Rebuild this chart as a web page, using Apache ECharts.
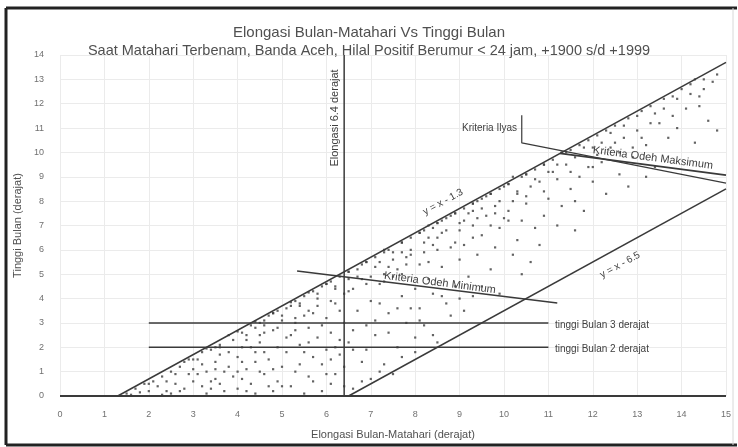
<!DOCTYPE html>
<html>
<head>
<meta charset="utf-8">
<script src="https://cdn.jsdelivr.net/npm/echarts@6/dist/echarts.min.js"></script>
<style>
  html, body { margin: 0; padding: 0; background: #fff; }
  #main { width: 738px; height: 447px; }
</style>
</head>
<body>
<div id="main"></div>
<script>
// garis batas & kriteria (koordinat data: elongasi, tinggi)
const baseLine = [[0, 0], [15, 0]];
const upperLine = [[1.3, 0], [15, 13.7]];
const lowerLine = [[6.5, 0], [15, 8.5]];
const elongLine = [[6.4, 0], [6.4, 14]];
const height3Line = [[2, 3], [11, 3]];
const height2Line = [[2, 2], [11, 2]];
const odehMinLine = [[5.34, 5.13], [11.2, 3.82]];
const odehMaxLine = [[11.26, 9.96], [15, 9.07]];
const ilyasLine = [[10.4, 11.53], [10.4, 10.39], [15, 8.74]];

// titik hilal (dibaca kira-kira dari gambar)
const moonPoints = [
  [1.5, 0.1], [1.7, 0.3], [1.8, 0.15], [1.9, 0.5], [2.0, 0.2], [2.1, 0.6], [1.6, 0.05],
  [2.2, 0.4], [2.3, 0.8], [2.4, 0.2], [2.5, 1.0], [2.6, 0.5], [2.7, 1.2], [2.8, 0.3],
  [2.9, 0.9], [2.5, 0.1], [2.3, 0.05], [2.8, 1.4], [3.0, 0.6], [2.6, 0.9], [2.9, 1.5],
  [3.1, 1.5], [3.2, 0.4], [3.3, 1.0], [3.4, 1.9], [3.5, 0.7], [3.5, 1.4], [3.6, 2.1],
  [3.7, 0.2], [3.8, 1.2], [3.9, 2.3], [3.9, 0.8], [3.3, 0.1], [3.6, 1.7], [3.2, 1.8],
  [3.8, 2.5], [3.4, 0.6], [3.7, 1.0], [4.0, 1.6], [4.0, 0.3], [3.1, 0.9], [3.5, 2.0],
  [4.1, 2.6], [4.2, 1.1], [4.3, 2.9], [4.3, 0.5], [4.4, 1.8], [4.5, 3.0], [4.5, 2.2],
  [4.6, 0.9], [4.7, 3.3], [4.7, 1.5], [4.8, 2.7], [4.8, 0.2], [4.9, 3.5], [4.9, 2.0],
  [4.2, 2.3], [4.4, 0.1], [4.6, 2.6], [5.0, 1.2], [5.0, 3.1], [4.1, 1.4], [4.5, 1.0],
  [4.8, 3.4], [4.3, 2.0], [4.6, 3.1], [4.9, 0.6], [4.4, 2.8],
  [5.1, 3.6], [5.1, 1.8], [5.2, 2.5], [5.2, 0.4], [5.3, 3.9], [5.3, 3.0], [5.4, 1.3],
  [5.4, 2.1], [5.5, 4.1], [5.5, 3.3], [5.6, 0.8], [5.6, 2.8], [5.7, 4.3], [5.7, 1.6],
  [5.8, 3.7], [5.8, 2.4], [5.9, 4.5], [5.9, 0.2], [6.0, 3.2], [6.0, 1.9], [5.5, 0.1],
  [5.2, 3.7], [5.8, 4.2], [6.0, 4.6], [5.3, 1.0], [5.6, 3.5], [5.4, 3.8], [5.9, 2.9],
  [6.1, 4.7], [6.1, 2.6], [6.2, 3.8], [6.2, 0.9], [6.3, 4.9], [6.3, 1.7], [6.4, 4.2],
  [6.4, 3.0], [6.5, 5.1], [6.5, 2.2], [6.6, 4.4], [6.6, 0.3], [6.7, 3.5], [6.7, 5.2],
  [6.8, 1.4], [6.8, 4.8], [6.9, 2.9], [6.9, 5.5], [7.0, 3.9], [7.0, 0.7], [6.2, 4.5],
  [6.4, 1.2], [6.6, 2.7], [6.8, 5.4], [6.1, 0.5], [6.5, 4.8], [6.3, 3.5],
  [7.1, 5.7], [7.1, 2.5], [7.2, 4.6], [7.3, 6.0], [7.3, 1.3], [7.4, 3.4], [7.5, 5.9],
  [7.5, 4.9], [7.6, 2.0], [7.7, 6.3], [7.7, 4.1], [7.8, 5.4], [7.8, 3.0], [7.9, 6.5],
  [8.0, 4.4], [8.0, 2.4], [7.2, 5.5], [7.4, 6.0], [7.6, 5.2], [7.9, 5.8], [7.2, 1.0],
  [7.5, 0.9], [7.6, 3.6], [7.3, 5.0], [7.7, 5.9],
  [8.1, 6.7], [8.1, 3.6], [8.2, 5.9], [8.3, 7.0], [8.3, 4.8], [8.4, 2.5], [8.5, 6.5],
  [8.5, 7.1], [8.6, 5.3], [8.7, 7.3], [8.7, 3.8], [8.8, 6.1], [8.9, 7.5], [8.9, 4.5],
  [9.0, 6.8], [9.0, 5.6], [8.2, 6.8], [8.4, 6.2], [8.6, 7.2], [8.8, 7.4], [8.3, 5.5],
  [8.0, 1.8], [8.5, 2.2], [8.1, 3.1], [8.6, 4.1], [8.4, 6.9],
  [9.1, 7.7], [9.1, 6.2], [9.2, 4.9], [9.3, 7.9], [9.3, 7.0], [9.4, 5.8], [9.5, 8.1],
  [9.5, 6.6], [9.6, 7.4], [9.7, 8.3], [9.7, 5.2], [9.8, 7.8], [9.9, 8.5], [9.9, 6.9],
  [10.0, 7.3], [10.0, 8.6], [9.2, 7.5], [9.4, 8.0], [9.6, 8.2], [9.8, 6.1], [9.0, 4.0],
  [9.1, 3.5], [9.5, 4.5], [9.9, 4.2], [9.3, 7.6],
  [10.1, 8.7], [10.1, 7.6], [10.2, 9.0], [10.3, 6.4], [10.3, 8.3], [10.4, 9.0],
  [10.5, 7.9], [10.5, 9.1], [10.6, 8.6], [10.7, 9.3], [10.7, 6.9], [10.8, 8.8],
  [10.9, 9.5], [10.9, 7.4], [11.0, 9.2], [11.0, 8.1], [10.2, 5.8], [10.6, 5.5],
  [10.4, 7.2], [10.8, 6.2], [10.4, 5.0],
  [11.1, 9.7], [11.2, 8.9], [11.3, 10.0], [11.3, 7.8], [11.4, 9.5], [11.5, 10.1],
  [11.5, 8.5], [11.6, 6.8], [11.7, 10.3], [11.7, 9.0], [11.8, 7.6], [11.9, 10.5],
  [11.9, 9.4], [12.0, 8.8], [11.4, 10.0], [11.6, 9.8], [11.2, 7.0], [12.0, 10.2],
  [12.1, 10.7], [12.2, 9.6], [12.3, 10.9], [12.3, 8.3], [12.4, 10.2], [12.5, 11.1],
  [12.6, 9.1], [12.7, 10.6], [12.8, 11.4], [12.9, 9.8], [13.0, 10.9], [12.5, 10.4],
  [12.2, 10.4], [12.8, 8.6],
  [13.1, 11.7], [13.2, 10.3], [13.3, 11.9], [13.4, 9.4], [13.5, 11.2], [13.6, 12.2],
  [13.7, 10.6], [13.8, 12.3], [13.9, 11.0], [14.0, 12.6], [13.4, 11.6], [13.2, 9.0],
  [14.1, 11.8], [14.2, 12.8], [14.3, 10.4], [14.4, 12.3], [14.5, 13.0], [14.6, 11.3],
  [14.7, 12.9], [14.8, 10.9], [14.3, 13.0],
  // rapat di bawah garis y = x - 1.3
  [3.0, 1.5], [3.3, 1.95], [3.6, 2.0], [4.0, 2.65], [4.2, 2.5], [4.4, 3.05], [4.6, 2.9],
  [4.8, 3.4], [5.0, 3.3], [5.2, 3.85], [5.4, 3.7], [5.6, 4.25], [5.8, 4.0], [6.0, 4.6],
  [6.2, 4.4], [6.5, 5.1], [6.7, 4.9], [6.9, 5.5], [7.1, 5.3], [7.3, 5.9], [7.5, 5.6],
  [7.7, 6.3], [7.9, 6.0], [8.1, 6.7], [8.3, 6.5], [8.5, 7.1], [8.7, 6.8], [8.9, 7.5],
  [9.1, 7.2], [9.3, 7.9], [9.5, 7.7], [9.7, 8.3], [9.9, 8.0], [10.1, 8.7], [10.3, 8.4],
  [10.5, 9.1], [10.7, 8.9], [10.9, 9.5], [11.1, 9.2],
  [4.1, 2.0], [4.5, 2.5], [4.9, 2.8], [5.3, 3.2], [5.7, 3.4], [6.1, 3.9], [6.5, 4.3],
  [6.9, 4.6], [7.3, 4.7], [7.7, 5.0], [8.1, 5.4], [8.5, 6.0], [8.9, 6.3], [9.3, 6.5],
  [9.7, 7.0], [10.1, 7.2], [10.5, 8.2], [10.9, 8.4], [7.0, 4.9], [7.4, 5.3], [7.8, 5.7],
  [8.2, 6.3], [8.6, 6.7], [9.0, 7.1], [9.4, 7.3], [9.8, 7.5], [10.2, 8.0],
  // pojok kiri bawah
  [2.0, 0.5], [2.4, 0.6], [2.7, 0.2], [3.0, 1.1], [3.2, 1.3], [3.4, 0.3], [3.6, 0.5],
  [3.8, 1.8], [4.0, 1.0], [4.2, 0.2], [4.4, 1.4], [4.6, 1.8], [4.8, 1.1], [5.0, 0.4],
  [5.1, 2.4], [5.3, 2.7], [5.5, 1.8], [5.7, 0.6], [5.9, 1.3], [6.1, 1.5], [6.3, 2.3],
  [6.0, 0.9], [5.6, 2.2], [4.7, 0.4], [4.1, 0.7], [3.5, 1.1], [6.2, 2.0], [6.4, 0.4],
  [6.6, 1.9], [6.8, 0.6],
  [6.9, 1.9], [7.1, 3.1], [7.4, 2.6], [7.7, 1.6], [7.9, 3.6], [8.2, 2.9], [8.8, 3.3],
  [9.3, 4.1], [7.2, 3.8], [8.4, 4.2],
  // sisi kanan atas
  [11.2, 9.5], [11.5, 9.2], [11.8, 10.2], [12.1, 9.9], [12.4, 10.8], [12.7, 11.1],
  [13.0, 11.5], [13.3, 11.2], [13.6, 11.8], [13.9, 12.2], [14.2, 12.4], [14.5, 12.6],
  [14.8, 13.2], [12.6, 10.0], [13.1, 10.6], [13.8, 11.5], [14.4, 11.9], [12.0, 9.4],
  [11.6, 8.0], [12.9, 10.2]
];

const lineColor = '#3a3a3a';
const textFont = '"Liberation Sans", Arial, sans-serif';

function guide(data, width) {
  return {
    type: 'line',
    data: data,
    showSymbol: false,
    symbol: 'none',
    silent: true,
    z: 3,
    lineStyle: { color: lineColor, width: width || 1.5 }
  };
}

function note(text, x, y, rot, size, align) {
  return {
    type: 'text',
    x: x,
    y: y,
    rotation: rot || 0,
    z: 10,
    style: {
      text: text,
      font: (size || 11) + 'px ' + textFont,
      fill: '#404040',
      align: align || 'center',
      verticalAlign: 'middle'
    }
  };
}

const myChart = echarts.init(document.getElementById('main'));
myChart.setOption({
  animation: false,
  backgroundColor: '#fff',
  title: [
    {
      text: 'Elongasi Bulan-Matahari Vs Tinggi Bulan',
      left: 'center',
      top: 20,
      textStyle: { color: '#505050', fontSize: 15, fontWeight: 'normal', fontFamily: textFont }
    },
    {
      text: 'Saat Matahari Terbenam, Banda Aceh, Hilal Positif Berumur < 24 jam, +1900 s/d +1999',
      left: 'center',
      top: 38,
      textStyle: { color: '#505050', fontSize: 14.5, fontWeight: 'normal', fontFamily: textFont }
    }
  ],
  grid: { left: 60, right: 12, top: 55, bottom: 51, containLabel: false },
  xAxis: {
    type: 'value',
    min: 0,
    max: 15,
    interval: 1,
    name: 'Elongasi Bulan-Matahari (derajat)',
    nameLocation: 'middle',
    nameGap: 33,
    nameTextStyle: { color: '#505050', fontSize: 11, fontFamily: textFont },
    axisLine: { show: false },
    axisTick: { show: false },
    axisLabel: { color: '#707070', fontSize: 9, margin: 14, fontFamily: textFont },
    splitLine: { show: true, lineStyle: { color: '#ebebeb', width: 1 } }
  },
  yAxis: {
    type: 'value',
    min: 0,
    max: 14,
    interval: 1,
    name: 'Tinggi Bulan (derajat)',
    nameLocation: 'middle',
    nameGap: 27,
    nameTextStyle: { color: '#505050', fontSize: 11, fontFamily: textFont },
    axisLine: { show: false },
    axisTick: { show: false },
    axisLabel: { color: '#707070', fontSize: 9, margin: 16, fontFamily: textFont },
    splitLine: { show: true, lineStyle: { color: '#ebebeb', width: 1 } }
  },
  series: [
    {
      type: 'scatter',
      data: moonPoints,
      symbol: 'rect',
      symbolSize: 2.2,
      silent: true,
      z: 2,
      itemStyle: { color: '#3c3c3c' }
    },
    guide(baseLine, 2),
    guide(upperLine),
    guide(lowerLine),
    guide(elongLine),
    guide(height3Line),
    guide(height2Line),
    guide(odehMinLine),
    guide(odehMaxLine, 1.8),
    guide(ilyasLine, 1.2)
  ],
  graphic: [
    // bingkai gambar
    { type: 'line', shape: { x1: 6, y1: 8, x2: 737, y2: 8 }, style: { stroke: '#222', lineWidth: 3 } },
    { type: 'line', shape: { x1: 6, y1: 8, x2: 6, y2: 445 }, style: { stroke: '#222', lineWidth: 3 } },
    { type: 'line', shape: { x1: 6, y1: 445, x2: 737, y2: 445 }, style: { stroke: '#222', lineWidth: 3 } },
    { type: 'line', shape: { x1: 733, y1: 8, x2: 733, y2: 445 }, style: { stroke: '#d8d8d8', lineWidth: 1 } },
    note('Elongasi 6.4 derajat', 335, 118, Math.PI / 2, 11),
    note('Kriteria Ilyas', 517, 128, 0, 10, 'right'),
    note('Kriteria Odeh Maksimum', 653, 158, -0.13, 11),
    note('Kriteria Odeh Minimum', 440, 283, -0.13, 11),
    note('y = x - 1.3', 443, 202, 0.5, 10),
    note('y = x - 6.5', 620, 265, 0.5, 10),
    note('tinggi Bulan 3 derajat', 555, 325, 0, 10, 'left'),
    note('tinggi Bulan 2 derajat', 555, 349, 0, 10, 'left')
  ]
});
</script>
</body>
</html>
